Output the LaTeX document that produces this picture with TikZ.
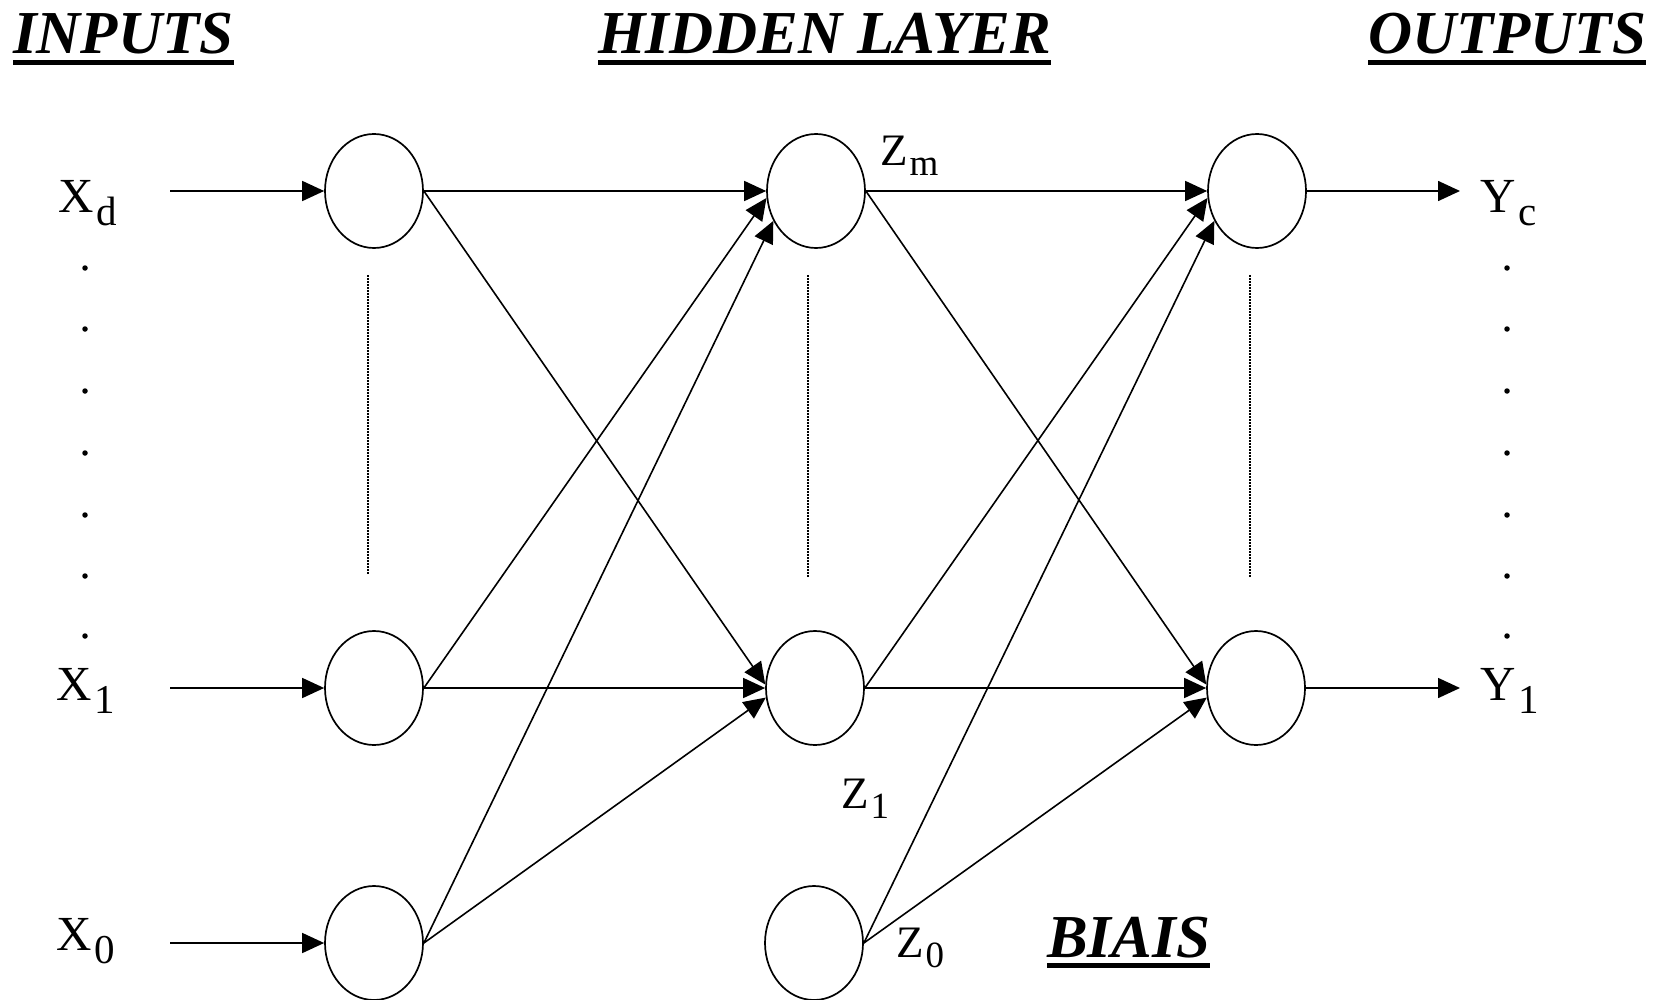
\documentclass[tikz,border=0pt]{standalone}
\usepackage{fontspec}
\setmainfont{Liberation Serif}
\usetikzlibrary{shapes.geometric,arrows.meta}
\newcommand\lsub[1]{\kern3pt\raisebox{-13pt}{\fontsize{41}{41}\selectfont #1}}
\newcommand\zsub[1]{\kern2pt\raisebox{-10pt}{\fontsize{37}{37}\selectfont #1}}
\begin{document}
\begin{tikzpicture}[x=1pt,y=-1pt,
  neuron/.style={ellipse,draw,line width=1.7pt,minimum width=98pt,minimum height=114pt,inner sep=0pt},
  conn/.style={line width=1.6pt,-{Triangle[length=22pt,width=20pt]}},
  heading/.style={font=\fontsize{61}{61}\selectfont\bfseries\itshape,inner sep=0pt,anchor=base west},
  lbl/.style={font=\fontsize{49}{49}\selectfont,inner sep=0pt,anchor=base west},
  zlbl/.style={font=\fontsize{45}{45}\selectfont,inner sep=0pt,anchor=base west},
  uline/.style={line width=5pt},
  vdots/.style={line width=1.2pt,dash pattern=on 1.5pt off 1.5pt},
  dotmark/.style={circle,fill,inner sep=0pt,minimum size=5.5pt}
]
\useasboundingbox (0,0) rectangle (1661,1000);

% headings
\node[heading] (hin) at (13,54) {INPUTS};
\node[heading] (hhid) at (598,54) {HIDDEN LAYER};
\node[heading] (hout) at (1368,54) {OUTPUTS};
\node[heading] (hbias) at (1047,957) {BIAIS};
\foreach \h in {hin,hhid,hout,hbias}
  \draw[uline] ([yshift=-8.5pt]\h.base west) -- ([yshift=-8.5pt]\h.base east);

% neurons
\node[neuron] (it) at (374,191) {};
\node[neuron] (im) at (374,688) {};
\node[neuron] (ib) at (374,943) {};
\node[neuron] (ht) at (816,191) {};
\node[neuron] (hm) at (815,688) {};
\node[neuron] (hb) at (814,943) {};
\node[neuron] (ot) at (1257,191) {};
\node[neuron] (om) at (1256,688) {};

% labels
\node[lbl] (xd) at (58,213) {X\lsub{d}};
\node[lbl] (x1) at (56,700) {X\lsub{1}};
\node[lbl] (x0) at (56,950) {X\lsub{0}};
\node[lbl] (yc) at (1480,213) {Y\lsub{c}};
\node[lbl] (y1) at (1480,700) {Y\lsub{1}};
\node[zlbl] (zm) at (880,166) {Z\zsub{m}};
\node[zlbl] (z1) at (841,808) {Z\zsub{1}};
\node[zlbl] (z0) at (896,957) {Z\zsub{0}};

% dots
\foreach \y in {268,329,391,453,515,576,636} {
  \node[dotmark] (dl\y) at (85,\y) {};
  \node[dotmark] (dr\y) at (1507,\y) {};
}

% vertical dotted lines
\draw[vdots] (368,275) -- (368,575);
\draw[vdots] (808,275) -- (808,577);
\draw[vdots] (1250,275) -- (1250,577);

% input arrows
\coordinate (xdS) at (170,191);
\coordinate (x1S) at (170,688);
\coordinate (x0S) at (170,943);
\draw[conn] (xdS) -- (it.west);
\draw[conn] (x1S) -- (im.west);
\draw[conn] (x0S) -- (ib.west);

% input -> hidden
\draw[conn] (it.east) -- (ht.180);
\draw[conn] (im.east) -- (ht.188);
\draw[conn] (ib.east) -- (ht.215);
\draw[conn] (it.east) -- (hm.176);
\draw[conn] (im.east) -- (hm.180);
\draw[conn] (ib.east) -- (hm.191);

% hidden -> output
\draw[conn] (ht.east) -- (ot.180);
\draw[conn] (hm.east) -- (ot.188);
\draw[conn] (hb.east) -- (ot.215);
\draw[conn] (ht.east) -- (om.176);
\draw[conn] (hm.east) -- (om.180);
\draw[conn] (hb.east) -- (om.191);

% output arrows
\coordinate (ycE) at (1460,191);
\coordinate (y1E) at (1460,688);
\draw[conn] (ot.east) -- (ycE);
\draw[conn] (om.east) -- (y1E);
\end{tikzpicture}
\end{document}
